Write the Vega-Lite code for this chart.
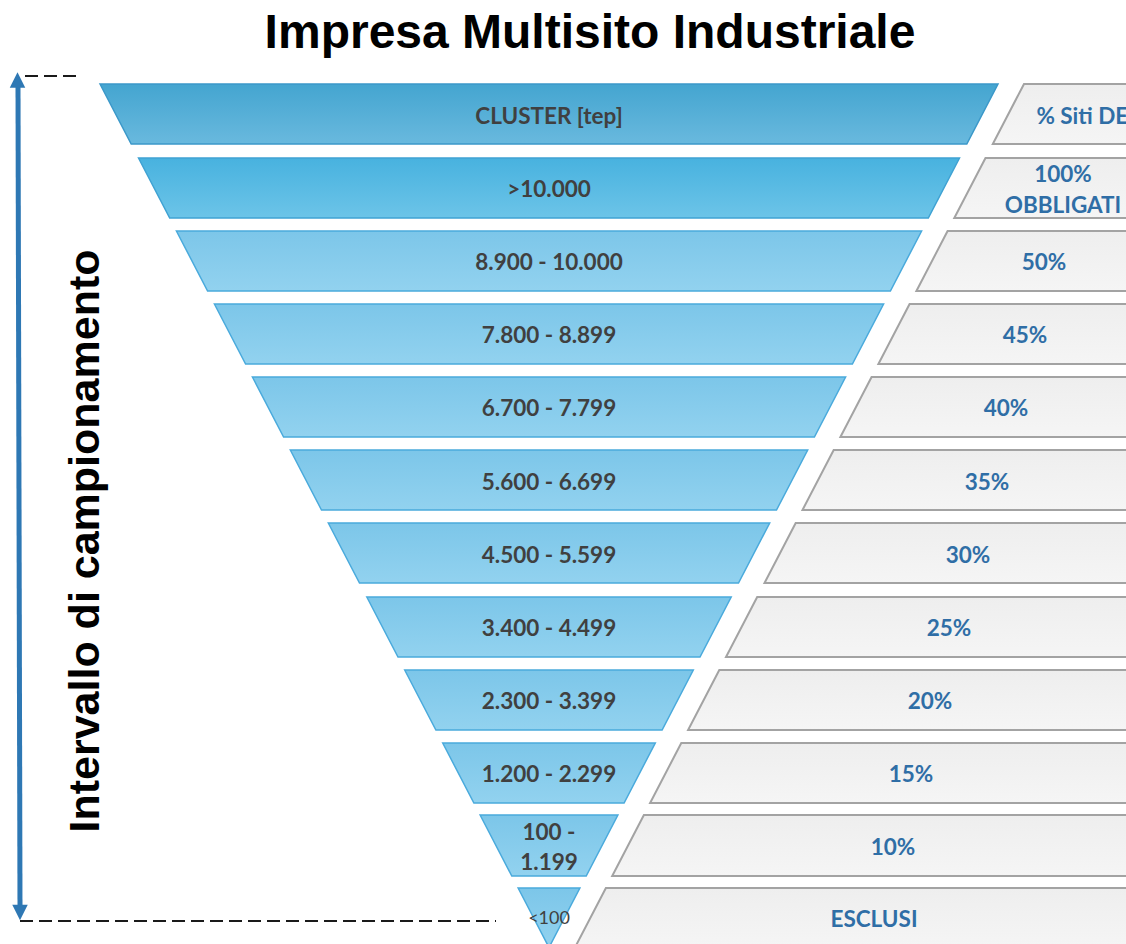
{
  "$schema": "https://vega.github.io/schema/vega-lite/v6.json",
  "width": 1126,
  "height": 944,
  "autosize": "none",
  "padding": 0,
  "background": "white",
  "config": {"view": {"stroke": null}},
  "datasets": {
    "funnel": [
      {"row": 0, "band": "header", "y": 84, "xl": 100, "xr": 998},
      {"row": 0, "band": "header", "y": 144, "xl": 131.2, "xr": 966.8},
      {"row": 1, "band": "top", "y": 158, "xl": 138.5, "xr": 959.5},
      {"row": 1, "band": "top", "y": 218, "xl": 169.7, "xr": 928.3},
      {"row": 2, "band": "body", "y": 231, "xl": 176.4, "xr": 921.6},
      {"row": 2, "band": "body", "y": 291, "xl": 207.6, "xr": 890.4},
      {"row": 3, "band": "body", "y": 304, "xl": 214.4, "xr": 883.6},
      {"row": 3, "band": "body", "y": 364, "xl": 245.6, "xr": 852.4},
      {"row": 4, "band": "body", "y": 377, "xl": 252.4, "xr": 845.6},
      {"row": 4, "band": "body", "y": 437, "xl": 283.6, "xr": 814.4},
      {"row": 5, "band": "body", "y": 450, "xl": 290.3, "xr": 807.7},
      {"row": 5, "band": "body", "y": 510, "xl": 321.5, "xr": 776.5},
      {"row": 6, "band": "body", "y": 523, "xl": 328.3, "xr": 769.7},
      {"row": 6, "band": "body", "y": 583, "xl": 359.5, "xr": 738.5},
      {"row": 7, "band": "body", "y": 597, "xl": 366.8, "xr": 731.2},
      {"row": 7, "band": "body", "y": 657, "xl": 398, "xr": 700},
      {"row": 8, "band": "body", "y": 670, "xl": 404.7, "xr": 693.3},
      {"row": 8, "band": "body", "y": 730, "xl": 435.9, "xr": 662.1},
      {"row": 9, "band": "body", "y": 743, "xl": 442.7, "xr": 655.3},
      {"row": 9, "band": "body", "y": 803, "xl": 473.9, "xr": 624.1},
      {"row": 10, "band": "body", "y": 815, "xl": 480.1, "xr": 617.9},
      {"row": 10, "band": "body", "y": 876, "xl": 511.8, "xr": 586.2},
      {"row": 11, "band": "body", "y": 888, "xl": 518.1, "xr": 579.9},
      {"row": 11, "band": "body", "y": 947.5, "xl": 549, "xr": 549}
    ],
    "boxes": [
      {"row": 0, "y": 84, "xl": 1024, "xr": 1824},
      {"row": 0, "y": 144, "xl": 992.8, "xr": 1792.8},
      {"row": 1, "y": 158, "xl": 985.5, "xr": 1785.5},
      {"row": 1, "y": 218, "xl": 954.3, "xr": 1754.3},
      {"row": 2, "y": 231, "xl": 947.6, "xr": 1747.6},
      {"row": 2, "y": 291, "xl": 916.4, "xr": 1716.4},
      {"row": 3, "y": 304, "xl": 909.6, "xr": 1709.6},
      {"row": 3, "y": 364, "xl": 878.4, "xr": 1678.4},
      {"row": 4, "y": 377, "xl": 871.6, "xr": 1671.6},
      {"row": 4, "y": 437, "xl": 840.4, "xr": 1640.4},
      {"row": 5, "y": 450, "xl": 833.7, "xr": 1633.7},
      {"row": 5, "y": 510, "xl": 802.5, "xr": 1602.5},
      {"row": 6, "y": 523, "xl": 795.7, "xr": 1595.7},
      {"row": 6, "y": 583, "xl": 764.5, "xr": 1564.5},
      {"row": 7, "y": 597, "xl": 757.2, "xr": 1557.2},
      {"row": 7, "y": 657, "xl": 726, "xr": 1526},
      {"row": 8, "y": 670, "xl": 719.3, "xr": 1519.3},
      {"row": 8, "y": 730, "xl": 688.1, "xr": 1488.1},
      {"row": 9, "y": 743, "xl": 681.3, "xr": 1481.3},
      {"row": 9, "y": 803, "xl": 650.1, "xr": 1450.1},
      {"row": 10, "y": 815, "xl": 643.9, "xr": 1443.9},
      {"row": 10, "y": 876, "xl": 612.2, "xr": 1412.2},
      {"row": 11, "y": 888, "xl": 605.9, "xr": 1405.9},
      {"row": 11, "y": 948, "xl": 574.7, "xr": 1374.7}
    ],
    "labels": [
      {"row": 0, "cy": 115, "cx": 549, "cluster": "CLUSTER [tep]", "py": 115, "px": 1151, "pct": "% Siti DEL CAMPIONE"},
      {"row": 1, "cy": 188, "cx": 549, "cluster": ">10.000", "py": 173, "px": 1063, "pct": "100%\nOBBLIGATI"},
      {"row": 2, "cy": 261, "cx": 549, "cluster": "8.900 - 10.000", "py": 261, "px": 1044, "pct": "50%"},
      {"row": 3, "cy": 334, "cx": 549, "cluster": "7.800 - 8.899", "py": 334, "px": 1025, "pct": "45%"},
      {"row": 4, "cy": 407, "cx": 549, "cluster": "6.700 - 7.799", "py": 407, "px": 1006, "pct": "40%"},
      {"row": 5, "cy": 481, "cx": 549, "cluster": "5.600 - 6.699", "py": 481, "px": 987, "pct": "35%"},
      {"row": 6, "cy": 554, "cx": 549, "cluster": "4.500 - 5.599", "py": 554, "px": 968, "pct": "30%"},
      {"row": 7, "cy": 627, "cx": 549, "cluster": "3.400 - 4.499", "py": 627, "px": 949, "pct": "25%"},
      {"row": 8, "cy": 700, "cx": 549, "cluster": "2.300 - 3.399", "py": 700, "px": 930, "pct": "20%"},
      {"row": 9, "cy": 773, "cx": 549, "cluster": "1.200 - 2.299", "py": 773, "px": 911, "pct": "15%"},
      {"row": 10, "cy": 831, "cx": 549, "cluster": "100 -\n1.199", "py": 846, "px": 893, "pct": "10%"},
      {"row": 11, "cy": 919, "cx": 549, "cluster": "<100", "py": 918, "px": 874, "pct": "ESCLUSI"}
    ],
    "arrow": [{"x": 18, "y": 84, "x2": 20, "y2": 908}],
    "heads": [
      {"dir": "up", "x": 17.5, "y": 80},
      {"dir": "down", "x": 20, "y": 912.5}
    ],
    "dashes": [
      {"x": 25, "x2": 78, "y": 76},
      {"x": 20, "x2": 496, "y": 921}
    ],
    "side": [{"label": "Intervallo di campionamento", "x": 99, "y": 541}],
    "heading": [{"label": "Impresa Multisito Industriale", "x": 590, "y": 48}]
  },
  "layer": [
    {
      "data": {"name": "boxes"},
      "mark": {"type": "area", "orient": "horizontal", "clip": true, "stroke": "#a3a3a3", "strokeWidth": 2,
        "fill": {"gradient": "linear", "x1": 0, "y1": 0, "x2": 0, "y2": 1, "stops": [{"offset": 0, "color": "#eeeeee"}, {"offset": 1, "color": "#f5f5f5"}]}},
      "encoding": {
        "y": {"field": "y", "type": "quantitative", "scale": {"domain": [0, 944], "reverse": true, "nice": false, "zero": false}, "axis": null},
        "x": {"field": "xl", "type": "quantitative", "scale": {"domain": [0, 1126], "nice": false, "zero": false}, "axis": null},
        "x2": {"field": "xr"},
        "detail": {"field": "row", "type": "nominal"}
      }
    },
    {
      "data": {"name": "funnel"},
      "transform": [{"filter": {"field": "band", "equal": "header"}}],
      "mark": {"type": "area", "orient": "horizontal", "stroke": "#3b98c9", "strokeWidth": 1.5,
        "fill": {"gradient": "linear", "x1": 0, "y1": 0, "x2": 0, "y2": 1, "stops": [{"offset": 0, "color": "#44a5d0"}, {"offset": 1, "color": "#69b9de"}]}},
      "encoding": {
        "y": {"field": "y", "type": "quantitative", "scale": {"domain": [0, 944], "reverse": true, "nice": false, "zero": false}, "axis": null},
        "x": {"field": "xl", "type": "quantitative", "scale": {"domain": [0, 1126], "nice": false, "zero": false}, "axis": null},
        "x2": {"field": "xr"},
        "detail": {"field": "row", "type": "nominal"}
      }
    },
    {
      "data": {"name": "funnel"},
      "transform": [{"filter": {"field": "band", "equal": "top"}}],
      "mark": {"type": "area", "orient": "horizontal", "stroke": "#3fa2d3", "strokeWidth": 1.5,
        "fill": {"gradient": "linear", "x1": 0, "y1": 0, "x2": 0, "y2": 1, "stops": [{"offset": 0, "color": "#48b2df"}, {"offset": 1, "color": "#6cc4e8"}]}},
      "encoding": {
        "y": {"field": "y", "type": "quantitative", "scale": {"domain": [0, 944], "reverse": true, "nice": false, "zero": false}, "axis": null},
        "x": {"field": "xl", "type": "quantitative", "scale": {"domain": [0, 1126], "nice": false, "zero": false}, "axis": null},
        "x2": {"field": "xr"},
        "detail": {"field": "row", "type": "nominal"}
      }
    },
    {
      "data": {"name": "funnel"},
      "transform": [{"filter": {"field": "band", "equal": "body"}}],
      "mark": {"type": "area", "orient": "horizontal", "stroke": "#4aaadc", "strokeWidth": 1.5,
        "fill": {"gradient": "linear", "x1": 0, "y1": 0, "x2": 0, "y2": 1, "stops": [{"offset": 0, "color": "#7cc6e9"}, {"offset": 1, "color": "#92d2ef"}]}},
      "encoding": {
        "y": {"field": "y", "type": "quantitative", "scale": {"domain": [0, 944], "reverse": true, "nice": false, "zero": false}, "axis": null},
        "x": {"field": "xl", "type": "quantitative", "scale": {"domain": [0, 1126], "nice": false, "zero": false}, "axis": null},
        "x2": {"field": "xr"},
        "detail": {"field": "row", "type": "nominal"}
      }
    },
    {
      "data": {"name": "labels"},
      "transform": [{"filter": "datum.row < 11"}],
      "mark": {"type": "text", "font": "Lato", "fontWeight": "bold", "fontSize": 22.5, "color": "#404040", "align": "center", "baseline": "middle", "dy": 2, "lineBreak": "\n", "lineHeight": 30},
      "encoding": {
        "y": {"field": "cy", "type": "quantitative", "scale": {"domain": [0, 944], "reverse": true, "nice": false, "zero": false}, "axis": null},
        "x": {"field": "cx", "type": "quantitative", "scale": {"domain": [0, 1126], "nice": false, "zero": false}, "axis": null},
        "text": {"field": "cluster"}
      }
    },
    {
      "data": {"name": "labels"},
      "transform": [{"filter": "datum.row == 11"}],
      "mark": {"type": "text", "font": "Lato", "fontSize": 18, "color": "#404040", "align": "center", "baseline": "middle"},
      "encoding": {
        "y": {"field": "cy", "type": "quantitative", "scale": {"domain": [0, 944], "reverse": true, "nice": false, "zero": false}, "axis": null},
        "x": {"field": "cx", "type": "quantitative", "scale": {"domain": [0, 1126], "nice": false, "zero": false}, "axis": null},
        "text": {"field": "cluster"}
      }
    },
    {
      "data": {"name": "labels"},
      "mark": {"type": "text", "font": "Lato", "fontWeight": "bold", "fontSize": 22.5, "color": "#2f6ea6", "align": "center", "baseline": "middle", "dy": 2, "lineBreak": "\n", "lineHeight": 31},
      "encoding": {
        "y": {"field": "py", "type": "quantitative", "scale": {"domain": [0, 944], "reverse": true, "nice": false, "zero": false}, "axis": null},
        "x": {"field": "px", "type": "quantitative", "scale": {"domain": [0, 1126], "nice": false, "zero": false}, "axis": null},
        "text": {"field": "pct"}
      }
    },
    {
      "data": {"name": "arrow"},
      "mark": {"type": "rule", "color": "#2e78b4", "strokeWidth": 5},
      "encoding": {
        "y": {"field": "y", "type": "quantitative", "scale": {"domain": [0, 944], "reverse": true, "nice": false, "zero": false}, "axis": null},
        "x": {"field": "x", "type": "quantitative", "scale": {"domain": [0, 1126], "nice": false, "zero": false}, "axis": null},
        "x2": {"field": "x2"},
        "y2": {"field": "y2"}
      }
    },
    {
      "data": {"name": "heads"},
      "mark": {"type": "point", "filled": true, "opacity": 1, "size": 240, "color": "#2e78b4"},
      "encoding": {
        "y": {"field": "y", "type": "quantitative", "scale": {"domain": [0, 944], "reverse": true, "nice": false, "zero": false}, "axis": null},
        "x": {"field": "x", "type": "quantitative", "scale": {"domain": [0, 1126], "nice": false, "zero": false}, "axis": null},
        "shape": {"field": "dir", "type": "nominal", "scale": {"domain": ["up", "down"], "range": ["M0,-1L1,1L-1,1Z", "M-1,-1L1,-1L0,1Z"]}, "legend": null}
      }
    },
    {
      "data": {"name": "dashes"},
      "mark": {"type": "rule", "color": "#1a1a1a", "strokeWidth": 2, "strokeDash": [13, 6]},
      "encoding": {
        "y": {"field": "y", "type": "quantitative", "scale": {"domain": [0, 944], "reverse": true, "nice": false, "zero": false}, "axis": null},
        "x": {"field": "x", "type": "quantitative", "scale": {"domain": [0, 1126], "nice": false, "zero": false}, "axis": null},
        "x2": {"field": "x2"}
      }
    },
    {
      "data": {"name": "side"},
      "mark": {"type": "text", "font": "Liberation Sans", "fontWeight": "bold", "fontSize": 43, "color": "#000000", "angle": 270, "align": "center", "baseline": "alphabetic"},
      "encoding": {
        "y": {"field": "y", "type": "quantitative", "scale": {"domain": [0, 944], "reverse": true, "nice": false, "zero": false}, "axis": null},
        "x": {"field": "x", "type": "quantitative", "scale": {"domain": [0, 1126], "nice": false, "zero": false}, "axis": null},
        "text": {"field": "label"}
      }
    },
    {
      "data": {"name": "heading"},
      "mark": {"type": "text", "font": "Liberation Sans", "fontWeight": "bold", "fontSize": 48, "color": "#000000", "align": "center", "baseline": "alphabetic"},
      "encoding": {
        "y": {"field": "y", "type": "quantitative", "scale": {"domain": [0, 944], "reverse": true, "nice": false, "zero": false}, "axis": null},
        "x": {"field": "x", "type": "quantitative", "scale": {"domain": [0, 1126], "nice": false, "zero": false}, "axis": null},
        "text": {"field": "label"}
      }
    }
  ]
}
